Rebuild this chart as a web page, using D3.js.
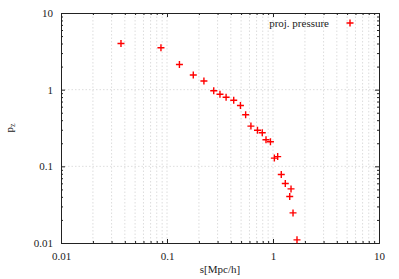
<!DOCTYPE html>
<html>
<head>
<meta charset="utf-8">
<script src="https://cdn.jsdelivr.net/npm/d3@7"></script>
<style>
  body { margin: 0; background: #fff; }
  svg text { font-family: "Liberation Serif", "Times New Roman", "DejaVu Serif", serif !important; font-size: 11px; fill: #222; }
  .grid line { stroke: #d4d4d4; stroke-width: 0.8; stroke-dasharray: 1.5,2; }
  .axis path, .axis line { stroke: #222; }
</style>
</head>
<body>
<div class="chart"></div>
<script>
// 資料
const sValues = [0.0368, 0.0877, 0.131, 0.177, 0.223, 0.276, 0.316, 0.361, 0.426, 0.493,
  0.552, 0.619, 0.714, 0.792, 0.859, 0.946, 1.03, 1.107, 1.197, 1.306,
  1.479, 1.438, 1.545, 1.684]
const pzValues = [4.01, 3.52, 2.13, 1.55, 1.30, 0.968, 0.871, 0.796, 0.728, 0.622,
  0.470, 0.335, 0.295, 0.274, 0.222, 0.209, 0.128, 0.134, 0.0782, 0.0596,
  0.0508, 0.0404, 0.0247, 0.011]
const xTicks = [0.01, 0.1, 1, 10]
const xTickLabels = ['0.01', '0.1', '1', '10']
const yTicks = [0.01, 0.1, 1, 10]
const yTickLabels = ['0.01', '0.1', '1', '10']
const seriesName = 'proj. pressure'

const data = sValues.map((s, i) => ({ s: s, pz: pzValues[i] }))

const svg_width = 399
const svg_height = 279
const margin = { top: 13, bottom: 36, left: 61, right: 20 }
const chart_width = svg_width - margin.left - margin.right
const chart_height = svg_height - margin.top - margin.bottom

const svg = d3.select('.chart').append('svg')
  .attr('width', svg_width).attr('height', svg_height)
const g = svg.append('g')
  .attr('transform', `translate(${margin.left},${margin.top})`)

const xScale = d3.scaleLog().domain([0.01, 10]).range([0, chart_width])
const yScale = d3.scaleLog().domain([0.01, 10]).range([chart_height, 0])

// minor ticks
function minors(lo, hi) {
  const out = []
  for (let e = Math.log10(lo); e < Math.log10(hi); e++) {
    for (let k = 2; k <= 9; k++) out.push(k * Math.pow(10, e))
  }
  return out
}
const xMinor = minors(0.01, 10)
const yMinor = minors(0.01, 10)

// grid
g.append('g').attr('class', 'grid')
  .selectAll('line').data(xMinor.concat([0.1, 1])).enter().append('line')
  .attr('x1', d => xScale(d)).attr('x2', d => xScale(d))
  .attr('y1', 0).attr('y2', chart_height)
g.append('g').attr('class', 'grid')
  .selectAll('line').data([0.1, 1]).enter().append('line')
  .attr('x1', 0).attr('x2', chart_width)
  .attr('y1', d => yScale(d)).attr('y2', d => yScale(d))

// axes (ticks inward, mirrored)
const fmtX = d => xTickLabels[xTicks.indexOf(d)]
const fmtY = d => yTickLabels[yTicks.indexOf(d)]

const xAxisMajor = d3.axisBottom(xScale).tickValues(xTicks).tickFormat(fmtX)
  .tickSizeInner(-4).tickSizeOuter(0).tickPadding(9)
const xAxisMinor = d3.axisBottom(xScale).tickValues(xMinor).tickFormat('')
  .tickSizeInner(-2).tickSizeOuter(0)
const yAxisMajor = d3.axisLeft(yScale).tickValues(yTicks).tickFormat(fmtY)
  .tickSizeInner(-4).tickSizeOuter(0).tickPadding(8)
const yAxisMinor = d3.axisLeft(yScale).tickValues(yMinor).tickFormat('')
  .tickSizeInner(-2).tickSizeOuter(0)

g.append('g').attr('class', 'x axis').attr('transform', `translate(0,${chart_height})`).call(xAxisMajor)
g.append('g').attr('class', 'x axis').attr('transform', `translate(0,${chart_height})`).call(xAxisMinor)
g.append('g').attr('class', 'y axis').call(yAxisMajor)
g.append('g').attr('class', 'y axis').call(yAxisMinor)
// mirror
g.append('g').attr('class', 'axis').call(d3.axisTop(xScale).tickValues(xTicks).tickFormat('').tickSizeInner(-4).tickSizeOuter(0))
g.append('g').attr('class', 'axis').call(d3.axisTop(xScale).tickValues(xMinor).tickFormat('').tickSizeInner(-2).tickSizeOuter(0))
g.append('g').attr('class', 'axis').attr('transform', `translate(${chart_width},0)`)
  .call(d3.axisRight(yScale).tickValues(yTicks).tickFormat('').tickSizeInner(-4).tickSizeOuter(0))
g.append('g').attr('class', 'axis').attr('transform', `translate(${chart_width},0)`)
  .call(d3.axisRight(yScale).tickValues(yMinor).tickFormat('').tickSizeInner(-2).tickSizeOuter(0))

g.selectAll('.axis').attr('font-family', null).attr('font-size', null)

// points
function plus(sel, size) {
  sel.append('path')
    .attr('d', `M${-size},0H${size}M0,${-size}V${size}`)
    .attr('stroke', '#ff0000').attr('stroke-width', 1.4).attr('fill', 'none')
}
g.selectAll('.pt').data(data).enter().append('g')
  .attr('class', 'pt')
  .attr('transform', d => `translate(${xScale(d.s)},${yScale(d.pz)})`)
  .call(plus, 3.5)

// legend
const legend = g.append('g').attr('transform', `translate(${chart_width - 29},10)`)
legend.append('text').attr('x', -21).attr('y', 3.5).attr('text-anchor', 'end').text(seriesName)
legend.append('g').call(plus, 3.5)

// labels
svg.append('text').attr('x', margin.left + chart_width / 2).attr('y', 273)
  .attr('text-anchor', 'middle').text('s[Mpc/h]')
const yl = svg.append('text').attr('transform', `translate(13,${margin.top + chart_height / 2}) rotate(-90)`)
  .attr('text-anchor', 'middle')
yl.append('tspan').text('p')
yl.append('tspan').attr('dy', 2).style('font-size', '8px').text('z')
</script>
</body>
</html>
